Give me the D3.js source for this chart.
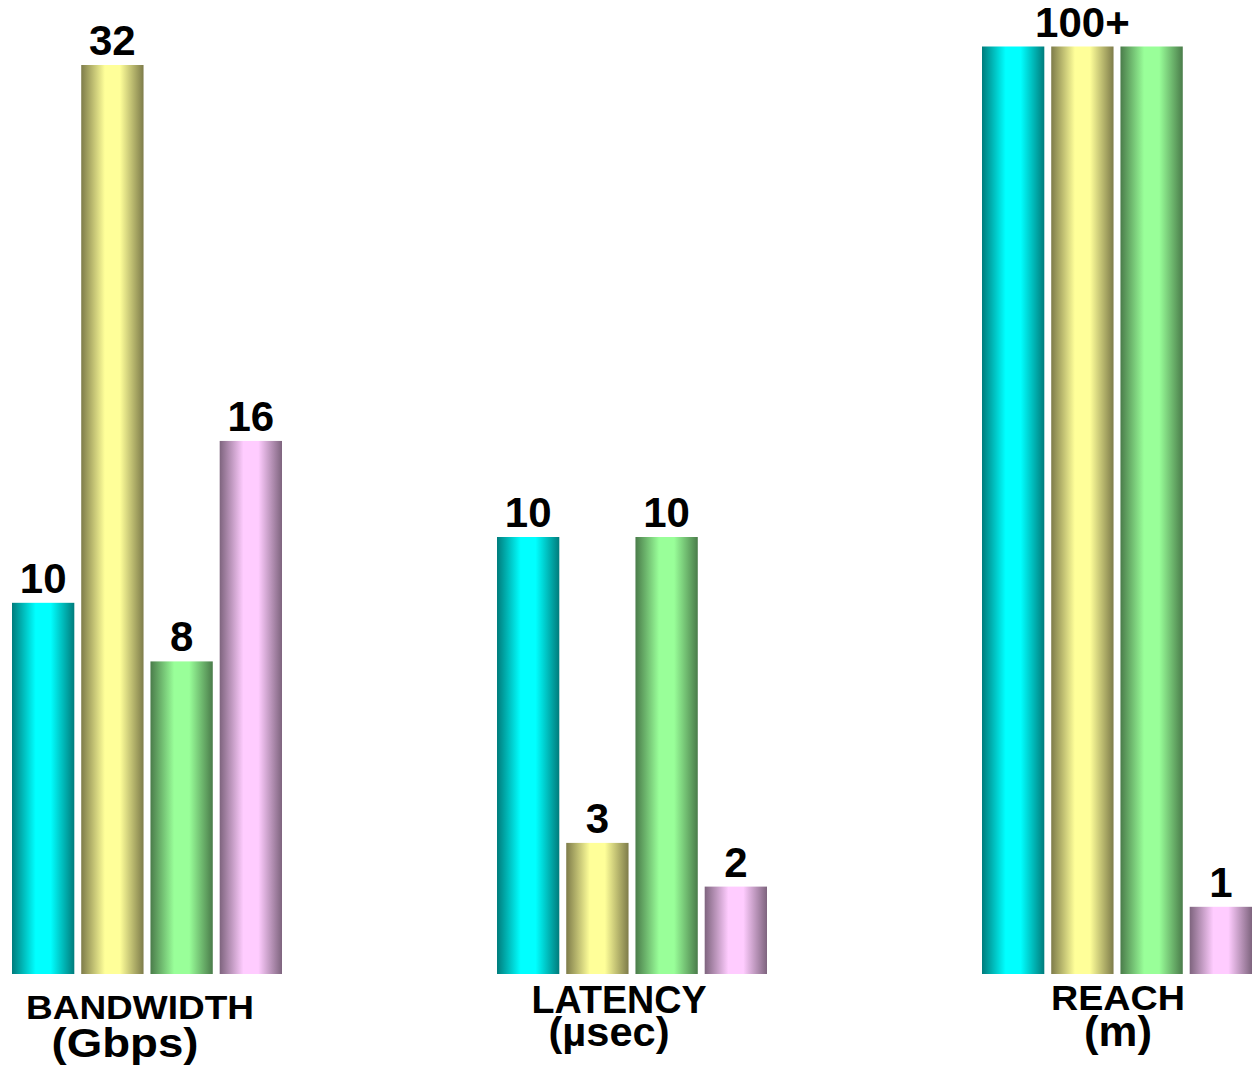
<!DOCTYPE html>
<html>
<head>
<meta charset="utf-8">
<script src="https://cdn.jsdelivr.net/npm/d3@7"></script>
<style>
  html, body { margin: 0; padding: 0; background: #ffffff; }
  svg { display: block; }
</style>
</head>
<body>
<svg id="chart" width="1258" height="1067"></svg>
<script>
// Metric groups, their units and the four compared series (one colour each)
const groups = ["BANDWIDTH", "LATENCY", "REACH"];
const units = ["(Gbps)", "(µsec)", "(m)"];
const seriesKeys = ["cyan", "yellow", "green", "pink"];

// Values per group, in series order
const bandwidthValues = [10, 32, 8, 16];
const latencyValues = [10, 3, 10, 2];
const reachValues = [100, 100, 100, 1];

// Value labels printed above the bars
const bandwidthLabels = ["10", "32", "8", "16"];
const latencyLabels = ["10", "3", "10", "2"];
const reachLabels = ["100+", "100+", "100+", "1"];

const groupValues = [bandwidthValues, latencyValues, reachValues];
const groupLabels = [bandwidthLabels, latencyLabels, reachLabels];

// ---- styling ----
const FONT = "'Liberation Sans', Arial, Helvetica, sans-serif";
// light centre colour, dark edge colour for the cylindrical shading
const palette = {
  cyan:   { light: "#00ffff", dark: "#007c7c" },
  yellow: { light: "#ffff99", dark: "#7e7c4a" },
  green:  { light: "#99ff99", dark: "#4a7c4a" },
  pink:   { light: "#ffccff", dark: "#7e647e" }
};

const baseY = 974;

const svg = d3.select("#chart");

// horizontal gradients: dark edges, bright middle
const defs = svg.append("defs");
seriesKeys.forEach(k => {
  const g = defs.append("linearGradient")
    .attr("id", "grad-" + k)
    .attr("x1", "0%").attr("x2", "100%")
    .attr("y1", "0%").attr("y2", "0%");
  [[0, "dark"], [0.38, "light"], [0.62, "light"], [1, "dark"]].forEach(([o, c]) => {
    g.append("stop").attr("offset", o).attr("stop-color", palette[k][c]);
  });
});

// ---- scales ----
const x0 = d3.scaleBand()
  .domain(groups)
  .range([12, 1252])
  .paddingInner(0.4433)
  .paddingOuter(0);

const x1 = d3.scaleBand()
  .domain(seriesKeys)
  .range([0, x0.bandwidth()])
  .paddingInner(0.1)
  .paddingOuter(0);

// each metric has its own unit, so each group gets its own vertical scale
const yScales = [
  d3.scalePow().exponent(0.77).domain([0, d3.max(bandwidthValues)]).range([baseY, 65]),
  d3.scaleLinear().domain([0, d3.max(latencyValues)]).range([baseY, 537]),
  d3.scalePow().exponent(0.57).domain([0, d3.max(reachValues)]).range([baseY, 46.5])
];

// ---- bars ----
groups.forEach((grp, gi) => {
  const y = yScales[gi];
  const gx = x0(grp);
  const data = groupValues[gi].map((v, si) => ({ key: seriesKeys[si], value: v, label: groupLabels[gi][si] }));

  const gSel = svg.append("g").attr("class", "group").attr("transform", `translate(${gx},0)`);

  gSel.selectAll("rect")
    .data(data)
    .join("rect")
    .attr("x", d => x1(d.key))
    .attr("y", d => y(d.value))
    .attr("width", x1.bandwidth())
    .attr("height", d => baseY - y(d.value))
    .attr("fill", d => `url(#grad-${d.key})`);

  // value labels: consecutive bars sharing a label get one centred label
  const runs = [];
  data.forEach((d, i) => {
    const last = runs[runs.length - 1];
    if (last && last.label === d.label) {
      last.items.push(d);
    } else {
      runs.push({ label: d.label, items: [d] });
    }
  });

  gSel.selectAll("text.value")
    .data(runs)
    .join("text")
    .attr("class", "value")
    .attr("x", r => {
      const first = r.items[0], lastI = r.items[r.items.length - 1];
      return (x1(first.key) + x1(lastI.key) + x1.bandwidth()) / 2;
    })
    .attr("y", r => d3.min(r.items, d => y(d.value)) - 10)
    .attr("text-anchor", "middle")
    .attr("font-family", FONT)
    .attr("font-weight", "bold")
    .attr("font-size", 42)
    .attr("fill", "#000")
    .text(r => r.label);
});

// ---- group captions: metric name with its unit on a second line ----
const captionStyle = [
  { dx1: -7,  y1: 1019, size1: 34, len1: 228, dx2: -22, y2: 1057, size2: 40, len2: 147 },
  { dx1: -13, y1: 1013, size1: 39, len1: 175, dx2: -23, y2: 1046, size2: 41, len2: 121 },
  { dx1: 1,   y1: 1010, size1: 35, len1: 134, dx2: 1,   y2: 1046, size2: 42, len2: 68 }
];

groups.forEach((grp, gi) => {
  const cx = x0(grp) + x0.bandwidth() / 2;
  const s = captionStyle[gi];
  const caption = svg.append("text")
    .attr("class", "caption")
    .attr("text-anchor", "middle")
    .attr("font-family", FONT)
    .attr("font-weight", "bold")
    .attr("fill", "#000");
  caption.append("tspan")
    .attr("x", cx + s.dx1)
    .attr("y", s.y1)
    .attr("font-size", s.size1)
    .attr("textLength", s.len1)
    .attr("lengthAdjust", "spacingAndGlyphs")
    .text(grp);
  caption.append("tspan")
    .attr("x", cx + s.dx2)
    .attr("y", s.y2)
    .attr("font-size", s.size2)
    .attr("textLength", s.len2)
    .attr("lengthAdjust", "spacingAndGlyphs")
    .text(units[gi]);
});
</script>
</body>
</html>
